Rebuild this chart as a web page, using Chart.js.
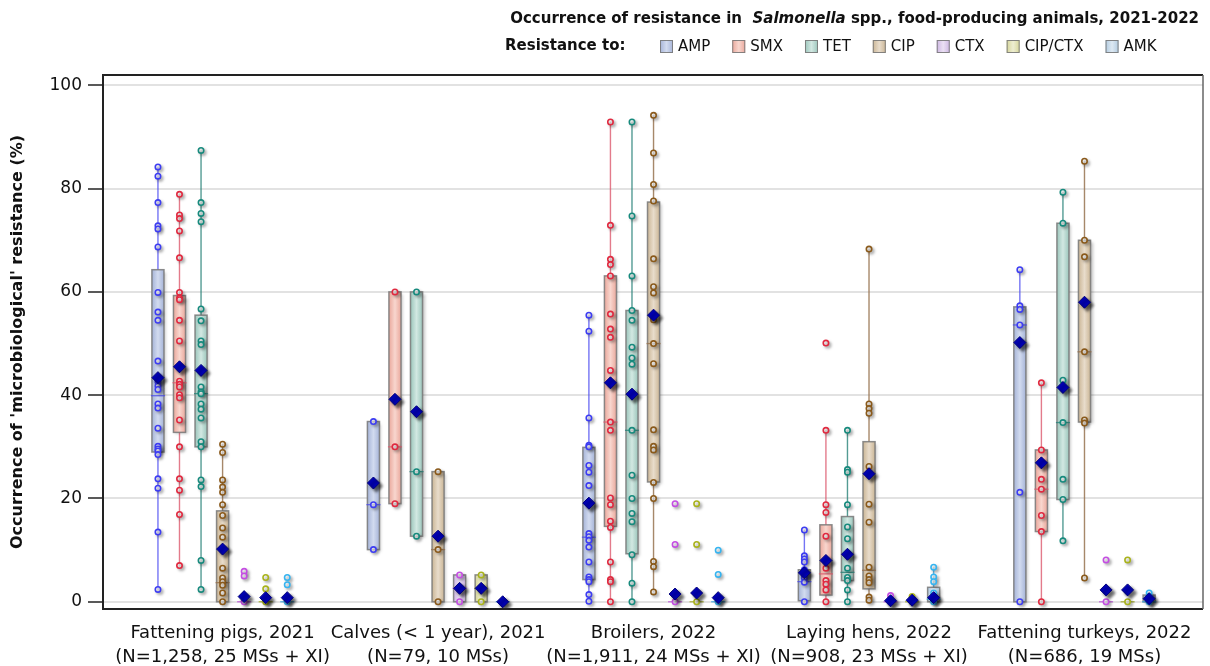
<!DOCTYPE html>
<html>
<head>
<meta charset="utf-8">
<title>Salmonella resistance</title>
<script src="https://cdn.jsdelivr.net/npm/chart.js@4.4.1/dist/chart.umd.min.js"></script>
<style>
  html, body { margin: 0; padding: 0; background: #fff; }
  #wrap { width: 1210px; height: 666px; }
</style>
</head>
<body>
<div id="wrap"><canvas id="chart" width="1210" height="666"></canvas></div>
<script>
const groupLabels = [
  ['Fattening pigs, 2021', '(N=1,258, 25 MSs + XI)'],
  ['Calves (< 1 year), 2021', '(N=79, 10 MSs)'],
  ['Broilers, 2022', '(N=1,911, 24 MSs + XI)'],
  ['Laying hens, 2022', '(N=908, 23 MSs + XI)'],
  ['Fattening turkeys, 2022', '(N=686, 19 MSs)']
];
const seriesNames = ['AMP', 'SMX', 'TET', 'CIP', 'CTX', 'CIP/CTX', 'AMK'];
const yTicks = [0, 20, 40, 60, 80, 100];

// country-level resistance (%), one inner array per animal category
const ampValues = [
  [84.2, 82.4, 77.3, 72.8, 72.2, 68.7, 59.9, 56.1, 54.5, 46.6, 42.6, 41.8, 41.1, 38.3, 37.5, 33.6, 30.1, 29.6, 29.2, 28.5, 23.8, 22.0, 13.5, 2.4],
  [34.9, 18.8, 10.1],
  [55.5, 52.4, 35.6, 30.3, 30.0, 26.4, 25.1, 22.5, 13.2, 12.6, 11.9, 10.6, 7.7, 4.8, 4.3, 3.9, 1.4, 0.1],
  [13.9, 8.9, 8.3, 7.7, 6.2, 5.4, 4.6, 3.8, 0],
  [64.3, 57.3, 56.6, 53.6, 21.2, 0]
];
const smxValues = [
  [78.9, 74.9, 74.2, 71.8, 66.6, 59.9, 58.8, 58.5, 54.5, 50.5, 42.7, 42.1, 41.6, 40.1, 39.5, 35.2, 30.0, 23.8, 21.6, 16.9, 7.0],
  [60.0, 30.0, 19.0],
  [92.9, 72.9, 66.3, 65.3, 63.1, 55.7, 52.8, 51.2, 44.8, 34.8, 33.2, 20.1, 18.8, 15.6, 14.4, 7.7, 4.3, 3.9, 0],
  [50.1, 33.2, 18.8, 17.3, 12.7, 6.5, 4.1, 3.4, 2.3, 0],
  [42.4, 29.4, 23.7, 21.8, 16.7, 13.6, 0]
];
const tetValues = [
  [87.4, 77.3, 75.2, 73.6, 56.7, 54.4, 50.5, 49.8, 41.6, 40.6, 40.3, 38.3, 37.3, 35.6, 31.0, 30.0, 23.6, 22.3, 8.0, 2.4],
  [60.0, 25.2, 12.7],
  [92.9, 74.7, 63.1, 56.4, 54.5, 49.3, 47.2, 46.0, 33.2, 24.5, 20.0, 17.1, 15.5, 9.1, 3.6, 0],
  [33.2, 25.6, 25.1, 18.8, 14.5, 12.2, 6.5, 4.7, 4.1, 2.3, 0],
  [79.3, 73.3, 42.9, 34.7, 23.7, 19.8, 11.8]
];
const cipValues = [
  [30.5, 28.9, 23.6, 22.2, 21.2, 18.8, 16.7, 14.3, 12.5, 6.5, 4.6, 3.9, 3.2, 1.7, 0],
  [25.2, 10.1, 0],
  [94.2, 86.9, 80.8, 77.6, 66.4, 61.0, 59.8, 54.6, 50.0, 46.1, 33.3, 30.1, 29.4, 23.1, 20.0, 7.8, 6.8, 1.9],
  [68.3, 38.3, 37.4, 36.5, 26.2, 18.9, 15.4, 6.7, 5.0, 4.3, 3.7, 0.9, 0.3],
  [85.3, 70.0, 66.8, 48.4, 35.2, 34.6, 4.6]
];
const ctxValues = [
  [5.9, 5.0, 0],
  [5.2, 0],
  [19.0, 11.1, 0],
  [1.2, 0],
  [8.1, 0]
];
const cipCtxValues = [
  [4.7, 2.5, 0],
  [5.2, 0],
  [19.0, 11.1, 0],
  [1.0, 0],
  [8.1, 0]
];
const amkValues = [
  [4.7, 3.3, 0],
  [0],
  [10.0, 5.3, 0],
  [6.7, 4.8, 3.9, 1.7, 0.7, 0],
  [1.7, 1.0, 0]
];

// box statistics, rows follow seriesNames, columns follow groupLabels
const boxQ1 = [
  [29.0, 10.1, 4.3, 0.2, 0],
  [32.8, 19.0, 14.6, 1.3, 13.6],
  [30.0, 12.7, 9.3, 4.1, 19.8],
  [0, 0, 23.2, 2.5, 34.8],
  [0, 0, 0, 0, 0],
  [0, 0, 0, 0, 0],
  [0, 0, 0, 0, 0]
];
const boxMedian = [
  [39.9, 18.8, 12.5, 3.9, 53.6],
  [42.4, 30.0, 34.8, 5.4, 21.8],
  [40.3, 25.2, 33.2, 5.7, 34.7],
  [3.7, 10.1, 50.0, 6.1, 48.4],
  [0, 2.6, 0, 0, 0],
  [0, 2.6, 0, 0, 0],
  [0, 0, 0, 0.5, 0]
];
const boxQ3 = [
  [64.3, 34.9, 29.9, 6.2, 57.1],
  [59.3, 60.0, 63.1, 14.9, 29.4],
  [55.5, 60.0, 56.4, 16.5, 73.3],
  [17.6, 25.2, 77.4, 31.0, 70.0],
  [0, 5.2, 0, 0, 0],
  [0, 5.2, 0, 0, 0],
  [0, 0, 0, 2.8, 1.3]
];
const meanValues = [
  [43.4, 23.0, 19.1, 5.6, 50.2],
  [45.5, 39.2, 42.4, 8.0, 26.9],
  [44.8, 36.8, 40.2, 9.2, 41.5],
  [10.2, 12.7, 55.5, 24.8, 58.0],
  [1.0, 2.6, 1.5, 0.2, 2.3],
  [0.8, 2.6, 1.7, 0.3, 2.3],
  [0.8, 0, 0.8, 0.8, 0.6]
];

const allValues = [ampValues, smxValues, tetValues, cipValues, ctxValues, cipCtxValues, amkValues];

const pointColors = ['#3d3df2', '#e02a40', '#178a7d', '#8a5a1c', '#c44ee2', '#a9b31c', '#36b4f0'];
const whiskerColors = ['rgba(70,70,240,0.75)', 'rgba(220,90,110,0.8)', 'rgba(40,130,120,0.8)', 'rgba(150,115,80,0.85)',
  'rgba(190,80,220,0.8)', 'rgba(160,170,30,0.8)', 'rgba(60,170,230,0.8)'];
const boxEdge = ['#a6b4d8', '#eaa89c', '#9cc6bc', '#cbb696', '#cdb6e2', '#d6d69a', '#b2cbe0'];
const boxMid = ['#d2dbef', '#f8d6ce', '#d2e8e2', '#e8dccb', '#ebe0f4', '#eeeed2', '#dde9f3'];

const FONT = '"DejaVu Sans", sans-serif';
const seriesStep = 0.1;
const boxWidth = 0.056;
const offsetOf = s => (s - (seriesNames.length - 1) / 2) * seriesStep;

function whiskers(vals, q1, q3) {
  const iqr = q3 - q1;
  const inside = vals.filter(v => v >= q1 - 1.5 * iqr && v <= q3 + 1.5 * iqr);
  return [Math.min(q1, ...inside), Math.max(q3, ...inside)];
}

const datasets = [];
// means go first so they are painted on top
datasets.push({
  label: 'Mean',
  data: meanValues.flatMap((row, s) => row.map((m, g) => ({ x: g + 1 + offsetOf(s), y: m }))),
  pointStyle: 'rectRot',
  pointRadius: 6,
  backgroundColor: '#0000b4',
  borderColor: '#00007a',
  borderWidth: 1,
  shadow: 'strong'
});
seriesNames.forEach((name, s) => {
  datasets.push({
    label: name,
    data: allValues[s].flatMap((vals, g) => vals.map(v => ({ x: g + 1 + offsetOf(s), y: v }))),
    pointStyle: 'circle',
    pointRadius: 2.7,
    borderWidth: 1.6,
    borderColor: pointColors[s],
    backgroundColor: 'rgba(255,255,255,0.75)',
    shadow: 'soft'
  });
});

// whiskers, boxes and medians under the points
const boxPlugin = {
  id: 'boxes',
  beforeDatasetsDraw(chart) {
    const { ctx, scales: { x, y } } = chart;
    const half = (x.getPixelForValue(1 + boxWidth / 2) - x.getPixelForValue(1));
    seriesNames.forEach((name, s) => {
      allValues[s].forEach((vals, g) => {
        const cx = x.getPixelForValue(g + 1 + offsetOf(s));
        const q1 = boxQ1[s][g], q3 = boxQ3[s][g], med = boxMedian[s][g];
        const [lo, hi] = whiskers(vals, q1, q3);
        ctx.save();
        ctx.strokeStyle = whiskerColors[s];
        ctx.lineWidth = 1.4;
        if (hi > lo) {
          ctx.beginPath();
          ctx.moveTo(cx, y.getPixelForValue(lo));
          ctx.lineTo(cx, y.getPixelForValue(hi));
          ctx.stroke();
        }
        const top = y.getPixelForValue(q3), bottom = y.getPixelForValue(q1);
        if (bottom - top > 0.5) {
          const grad = ctx.createLinearGradient(cx - half, 0, cx + half, 0);
          grad.addColorStop(0, boxEdge[s]);
          grad.addColorStop(0.5, boxMid[s]);
          grad.addColorStop(1, boxEdge[s]);
          ctx.shadowColor = 'rgba(0,0,0,0.25)';
          ctx.shadowBlur = 3;
          ctx.shadowOffsetX = 2;
          ctx.shadowOffsetY = 2;
          ctx.fillStyle = grad;
          ctx.fillRect(cx - half, top, half * 2, bottom - top);
          ctx.shadowColor = 'transparent';
          ctx.strokeStyle = 'rgba(120,120,120,0.85)';
          ctx.lineWidth = 1.5;
          ctx.strokeRect(cx - half, top, half * 2, bottom - top);
        }
        const my = y.getPixelForValue(med);
        ctx.strokeStyle = whiskerColors[s];
        ctx.lineWidth = 1.3;
        ctx.beginPath();
        ctx.moveTo(cx - half - 1, my);
        ctx.lineTo(cx + half + 1, my);
        ctx.stroke();
        ctx.restore();
      });
    });
  }
};

const shadowPlugin = {
  id: 'pointShadow',
  beforeDatasetDraw(chart, args) {
    const ds = chart.data.datasets[args.index];
    const ctx = chart.ctx;
    ctx.save();
    if (ds.shadow === 'strong') {
      ctx.shadowColor = 'rgba(0,0,0,0.6)';
      ctx.shadowBlur = 3;
      ctx.shadowOffsetX = 3;
      ctx.shadowOffsetY = 3;
    } else {
      ctx.shadowColor = 'rgba(0,0,0,0.3)';
      ctx.shadowBlur = 3;
      ctx.shadowOffsetX = 2;
      ctx.shadowOffsetY = 2;
    }
  },
  afterDatasetDraw(chart) {
    chart.ctx.restore();
  }
};

// plot frame, heading and key
const decorPlugin = {
  id: 'decor',
  afterDraw(chart) {
    const { ctx, chartArea: a } = chart;
    ctx.save();
    ctx.lineWidth = 2;
    ctx.strokeStyle = '#222';
    ctx.beginPath();
    ctx.moveTo(a.right, a.top);
    ctx.lineTo(a.left, a.top);
    ctx.lineTo(a.left, a.bottom);
    ctx.lineTo(a.right, a.bottom);
    ctx.stroke();
    ctx.strokeStyle = '#666';
    ctx.lineWidth = 1.5;
    ctx.beginPath();
    ctx.moveTo(a.right, a.top);
    ctx.lineTo(a.right, a.bottom);
    ctx.stroke();

    ctx.fillStyle = '#111';
    ctx.textBaseline = 'middle';
    const parts = [
      ['bold 15px ' + FONT, 'Occurrence of resistance in  '],
      ['italic bold 15px ' + FONT, 'Salmonella'],
      ['bold 15px ' + FONT, ' spp., food-producing animals, 2021-2022']
    ];
    let total = 0;
    parts.forEach(([f, t]) => { ctx.font = f; total += ctx.measureText(t).width; });
    let tx = 1199 - total;
    parts.forEach(([f, t]) => {
      ctx.font = f;
      ctx.fillText(t, tx, 19);
      tx += ctx.measureText(t).width;
    });

    ctx.font = 'bold 15px ' + FONT;
    ctx.fillText('Resistance to:', 505, 46);
    let lx = 660;
    ctx.font = '15px ' + FONT;
    seriesNames.forEach((name, s) => {
      const grad = ctx.createLinearGradient(lx, 0, lx + 13, 0);
      grad.addColorStop(0, boxEdge[s]);
      grad.addColorStop(0.5, boxMid[s]);
      grad.addColorStop(1, boxEdge[s]);
      ctx.fillStyle = grad;
      ctx.fillRect(lx, 40, 13, 13);
      ctx.strokeStyle = 'rgba(120,120,120,0.9)';
      ctx.lineWidth = 1;
      ctx.strokeRect(lx + 0.5, 40.5, 12, 12);
      ctx.fillStyle = '#111';
      ctx.fillText(name, lx + 18, 47);
      lx += 18 + ctx.measureText(name).width + 22;
    });
    ctx.restore();
  }
};

new Chart(document.getElementById('chart'), {
  type: 'scatter',
  data: { datasets },
  plugins: [boxPlugin, shadowPlugin, decorPlugin],
  options: {
    responsive: false,
    animation: false,
    events: [],
    layout: { padding: { top: 75, right: 1, left: 0, bottom: 0 } },
    plugins: { legend: { display: false }, tooltip: { enabled: false } },
    scales: {
      x: {
        type: 'linear',
        min: 0.445,
        max: 5.55,
        afterFit: scale => { scale.height = 57; },
        afterBuildTicks: scale => { scale.ticks = groupLabels.map((_, i) => ({ value: i + 1 })); },
        grid: { display: false, drawTicks: false },
        border: { display: false },
        ticks: {
          autoSkip: false,
          maxRotation: 0,
          minRotation: 0,
          padding: 13,
          color: '#111',
          font: { family: FONT, size: 18, lineHeight: 1.3 },
          callback: v => groupLabels[Math.round(v) - 1]
        }
      },
      y: {
        min: -1.4,
        max: 102,
        afterFit: scale => { scale.width = 103; },
        afterBuildTicks: scale => { scale.ticks = yTicks.map(v => ({ value: v })); },
        grid: { color: '#e2e2e2', lineWidth: 2, tickColor: '#222', tickLength: 15, tickWidth: 1.5 },
        border: { display: false },
        ticks: { padding: 6, color: '#111', font: { family: FONT, size: 17 } },
        title: {
          display: true,
          text: "Occurrence of 'microbiological' resistance (%)",
          color: '#111',
          font: { family: FONT, size: 16, weight: 'bold' },
          padding: { top: 8, bottom: 0 }
        }
      }
    }
  }
});
</script>
</body>
</html>
